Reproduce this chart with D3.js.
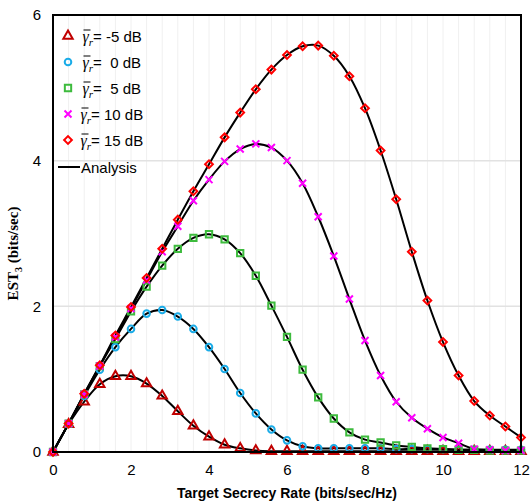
<!DOCTYPE html>
<html lang="en">
<head>
	<meta charset="utf-8">
	<title>EST3 vs Target Secrecy Rate</title>
	<script src="https://d3js.org/d3.v7.min.js"></script>
	<style type="text/css">
		body { margin: 0; background: #fff; }
		.axis text { font-family: "Liberation Sans", Arial, sans-serif; font-size: 15px; fill: #000; }
		.legend text { font-family: "Liberation Sans", Arial, sans-serif; font-size: 15px; white-space: pre; }
	</style>
</head>
<body>
<script type="text/javascript">

	// Target secrecy rate (x) samples
	var rates = [0, 0.4, 0.8, 1.2, 1.6, 2, 2.4, 2.8, 3.2, 3.6, 4, 4.4, 4.8, 5.2, 5.6, 6,
		6.4, 6.8, 7.2, 7.6, 8, 8.4, 8.8, 9.2, 9.6, 10, 10.4, 10.8, 11.2, 11.6, 12];

	// EST3 values, one array per average SNR
	var estM5 = [0, 0.38, 0.69, 0.93, 1.04, 1.04, 0.94, 0.77, 0.56, 0.36, 0.21, 0.10, 0.05, 0.02, 0.01, 0.01,
		0.01, 0.01, 0.01, 0.01, 0.01, 0.01, 0.01, 0.01, 0.01, 0.01, 0.01, 0.01, 0.01, 0.01, 0.01];
	var est0 = [0, 0.39, 0.77, 1.13, 1.44, 1.69, 1.90, 1.95, 1.86, 1.69, 1.44, 1.14, 0.81, 0.53, 0.31, 0.16,
		0.08, 0.05, 0.05, 0.05, 0.05, 0.05, 0.04, 0.04, 0.04, 0.04, 0.03, 0.03, 0.03, 0.03, 0.03];
	var est5 = [0, 0.39, 0.79, 1.18, 1.55, 1.93, 2.27, 2.56, 2.79, 2.94, 2.99, 2.92, 2.73, 2.42, 2.01, 1.58,
		1.13, 0.75, 0.46, 0.27, 0.17, 0.13, 0.09, 0.07, 0.05, 0.04, 0.03, 0.03, 0.02, 0.02, 0.02];
	var est10 = [0, 0.39, 0.79, 1.18, 1.58, 1.97, 2.36, 2.75, 3.10, 3.45, 3.74, 3.99, 4.16, 4.23, 4.18, 4.00,
		3.69, 3.23, 2.69, 2.10, 1.53, 1.05, 0.69, 0.47, 0.32, 0.20, 0.12, 0.04, 0.03, 0.02, 0.02];
	var est15 = [0, 0.39, 0.80, 1.19, 1.60, 1.99, 2.39, 2.79, 3.19, 3.58, 3.95, 4.32, 4.66, 4.98, 5.25, 5.45,
		5.57, 5.58, 5.44, 5.16, 4.72, 4.14, 3.47, 2.75, 2.08, 1.51, 1.05, 0.70, 0.50, 0.35, 0.20];

	var snrLabels = ["-5", " 0", " 5", "10", "15"];
	var xTicks = [0, 2, 4, 6, 8, 10, 12];
	var yTicks = [0, 2, 4, 6];

	// marker styles per series
	var xMark = "M-3.5,-3.5L3.5,3.5M-3.5,3.5L3.5,-3.5";
	var seriesList = [
		{values: estM5, color: "#C00000", path: d3.symbol().type(d3.symbolTriangle).size(38)(), rot: 0},
		{values: est0, color: "#1AACE8", path: d3.symbol().type(d3.symbolCircle).size(34)(), rot: 0},
		{values: est5, color: "#3DBB3D", path: d3.symbol().type(d3.symbolSquare).size(40)(), rot: 0},
		{values: est10, color: "#FF00FF", path: xMark, rot: 0},
		{values: est15, color: "#FF0000", path: d3.symbol().type(d3.symbolSquare).size(30)(), rot: 45}
	];

	var margin = {top: 15, right: 9, bottom: 52, left: 53};
	var outer_width = 530;
	var outer_height = 504;
	var w = outer_width - margin.left - margin.right;
	var h = outer_height - margin.top - margin.bottom;

	var svg = d3.select("body")
		.append("svg")
		.attr("width", outer_width)
		.attr("height", outer_height)
		.append("g")
		.attr("transform", "translate(" + margin.left + "," + margin.top + ")");

	var xScale = d3.scaleLinear().domain([0, 12]).range([0, w]);
	var yScale = d3.scaleLinear().domain([0, 6]).range([h, 0]);

	// light vertical grid at every sample position
	svg.append("g")
		.selectAll("line")
		.data(rates)
		.enter()
		.append("line")
		.attr("x1", function(d) { return xScale(d); })
		.attr("x2", function(d) { return xScale(d); })
		.attr("y1", 0)
		.attr("y2", h)
		.style("stroke", "#f0f0f0")
		.style("stroke-width", 1);

	// horizontal grid
	svg.append("g")
		.selectAll("line")
		.data(yTicks)
		.enter()
		.append("line")
		.attr("x1", 0)
		.attr("x2", w)
		.attr("y1", function(d) { return yScale(d); })
		.attr("y2", function(d) { return yScale(d); })
		.style("stroke", "#e2e2e2")
		.style("stroke-width", 1.5);

	// axes
	var xAxis = d3.axisBottom(xScale).tickValues(xTicks).tickSize(0).tickPadding(12).tickFormat(d3.format("d"));
	var yAxis = d3.axisLeft(yScale).tickValues(yTicks).tickSize(0).tickPadding(12).tickFormat(d3.format("d"));

	svg.append("g")
		.attr("class", "x axis")
		.attr("transform", "translate(0," + h + ")")
		.call(xAxis)
		.call(function(g) { g.select(".domain").remove(); });

	svg.append("g")
		.attr("class", "y axis")
		.call(yAxis)
		.call(function(g) { g.select(".domain").remove(); });

	// analysis curves
	var line = d3.line()
		.x(function(d, i) { return xScale(rates[i]); })
		.y(function(d) { return yScale(d); })
		.curve(d3.curveCatmullRom.alpha(0.5));

	seriesList.forEach(function(s) {
		svg.append("path")
			.datum(s.values)
			.attr("d", line)
			.style("fill", "none")
			.style("stroke", "#000")
			.style("stroke-width", 2);
	});

	// markers
	seriesList.forEach(function(s) {
		svg.append("g")
			.selectAll("path")
			.data(s.values)
			.enter()
			.append("path")
			.attr("d", s.path)
			.attr("transform", function(d, i) {
				return "translate(" + xScale(rates[i]) + "," + yScale(d) + ") rotate(" + s.rot + ")";
			})
			.style("fill", "none")
			.style("stroke", s.color)
			.style("stroke-width", 2);
	});

	// frame
	svg.append("rect")
		.attr("x", 0)
		.attr("y", 0)
		.attr("width", w)
		.attr("height", h)
		.style("fill", "none")
		.style("stroke", "#000")
		.style("stroke-width", 2);

	// legend
	var legend = svg.append("g").attr("class", "legend");
	seriesList.forEach(function(s, i) {
		var cy = 21 + i * 26;
		legend.append("path")
			.attr("d", s.path)
			.attr("transform", "translate(15," + cy + ") rotate(" + s.rot + ")")
			.style("fill", "none")
			.style("stroke", s.color)
			.style("stroke-width", 2);

		var gx = (i >= 3) ? 27.5 : 29.5;
		var t = legend.append("text")
			.attr("x", gx)
			.attr("y", cy + 6);
		t.append("tspan")
			.style("font-family", "'Liberation Serif', serif")
			.style("font-style", "italic")
			.style("font-size", "16px")
			.text("γ");
		t.append("tspan")
			.attr("dy", 4)
			.style("font-family", "'Liberation Serif', serif")
			.style("font-style", "italic")
			.style("font-size", "11px")
			.text("r");
		t.append("tspan")
			.attr("dy", -4)
			.text("= " + snrLabels[i] + " dB");
		legend.append("line")
			.attr("x1", gx + 1)
			.attr("x2", gx + 8)
			.attr("y1", cy - 6)
			.attr("y2", cy - 6)
			.style("stroke", "#000")
			.style("stroke-width", 1);
	});

	var ay = 21 + 5 * 26 + 1;
	legend.append("line")
		.attr("x1", 5)
		.attr("x2", 27)
		.attr("y1", ay)
		.attr("y2", ay)
		.style("stroke", "#000")
		.style("stroke-width", 2);
	legend.append("text")
		.attr("x", 28)
		.attr("y", ay + 6)
		.text("Analysis");

	// axis titles
	svg.append("text")
		.attr("x", w / 2)
		.attr("y", h + 46)
		.attr("text-anchor", "middle")
		.style("font-family", "'Liberation Sans', Arial, sans-serif")
		.style("font-weight", "bold")
		.style("font-size", "14px")
		.text("Target Secrecy Rate (bits/sec/Hz)");

	var yTitle = svg.append("text")
		.attr("transform", "translate(-35," + (h / 2 + 20) + ") rotate(-90)")
		.attr("text-anchor", "middle")
		.style("font-family", "'Liberation Serif', serif")
		.style("font-weight", "bold")
		.style("font-size", "15px");
	yTitle.append("tspan").text("EST");
	yTitle.append("tspan").attr("dy", 4).style("font-size", "10px").text("3");
	yTitle.append("tspan").attr("dy", -4).text(" (bits/sec)");

</script>
</body>
</html>
